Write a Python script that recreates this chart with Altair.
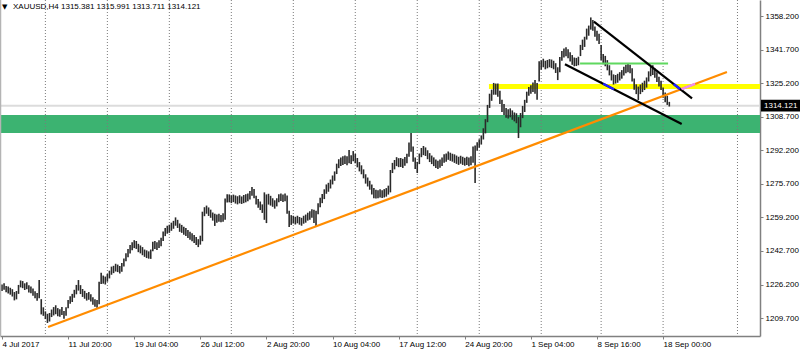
import altair as alt
import pandas as pd

# ---- candle data (H4 bars, low / high) ----
lo = [1223.0, 1223.6, 1222.4, 1221.8, 1221.2, 1220.3, 1218.4, 1218.9, 1221.6, 1224.8,
      1224.4, 1223.5, 1223.9, 1222.3, 1221.9, 1220.7, 1219.4, 1218.2, 1219.5, 1211.5,
      1210.8, 1209.2, 1207.3, 1208.0, 1210.2, 1211.0, 1211.6, 1210.6, 1210.3, 1211.2,
      1209.4, 1210.8, 1214.5, 1216.8, 1217.6, 1219.7, 1221.4, 1223.2, 1221.5, 1220.1,
      1219.2, 1218.3, 1218.7, 1217.9, 1216.2, 1215.3, 1214.8, 1216.5, 1226.5, 1226.6,
      1226.2, 1227.6, 1229.2, 1231.0, 1231.8, 1232.6, 1232.3, 1231.6, 1232.5, 1235.0,
      1237.6, 1239.6, 1241.5, 1243.0, 1244.1, 1243.7, 1242.1, 1241.5, 1240.6, 1239.8,
      1239.2, 1238.9, 1238.8, 1242.6, 1243.6, 1243.2, 1244.1, 1245.0, 1247.6, 1250.0,
      1251.2, 1251.6, 1252.6, 1253.6, 1255.1, 1254.0, 1252.1, 1251.6, 1250.7, 1250.0,
      1249.1, 1248.2, 1247.5, 1246.6, 1245.6, 1244.6, 1245.8, 1247.5, 1259.8, 1261.0,
      1259.9, 1259.0, 1257.6, 1255.0, 1256.6, 1257.1, 1256.8, 1257.1, 1258.0, 1266.5,
      1266.6, 1266.2, 1266.7, 1266.0, 1265.6, 1266.1, 1265.8, 1266.2, 1266.6, 1267.1,
      1268.0, 1269.8, 1268.6, 1265.5, 1264.0, 1262.8, 1261.4, 1258.0, 1256.4, 1265.5,
      1265.0, 1264.4, 1263.5, 1264.6, 1266.6, 1267.2, 1266.8, 1267.1, 1261.0, 1254.5,
      1255.5, 1256.2, 1255.7, 1256.3, 1255.6, 1255.1, 1256.1, 1256.6, 1257.6, 1258.0,
      1259.0, 1256.5, 1254.5, 1260.8, 1264.2, 1266.2, 1268.2, 1270.8, 1271.8, 1273.4,
      1275.4, 1277.2, 1280.5, 1283.4, 1284.5, 1285.0, 1285.5, 1284.8, 1285.8, 1285.4,
      1286.8, 1285.8, 1283.8, 1281.8, 1280.4, 1278.4, 1275.8, 1274.4, 1272.8, 1270.5,
      1268.6, 1268.5, 1268.6, 1269.0, 1268.7, 1269.0, 1269.4, 1270.4, 1271.5, 1281.0,
      1282.8, 1284.4, 1283.9, 1284.0, 1283.5, 1284.6, 1285.8, 1289.0, 1291.5, 1286.5,
      1283.0, 1281.0, 1285.4, 1288.8, 1289.8, 1289.4, 1287.8, 1286.4, 1285.4, 1284.4,
      1283.5, 1283.0, 1283.6, 1284.5, 1286.0, 1286.6, 1287.5, 1287.0, 1286.6, 1286.0,
      1285.5, 1285.0, 1285.6, 1285.0, 1284.6, 1285.0, 1284.3, 1284.8, 1286.0, 1276.1,
      1292.0, 1293.5, 1295.0, 1297.5, 1300.5, 1306.0, 1313.0, 1316.5, 1319.5, 1319.5,
      1318.5, 1315.0, 1311.0, 1309.5, 1308.2, 1307.8, 1308.4, 1307.2, 1306.4, 1305.5,
      1298.2, 1303.5, 1308.0, 1311.0, 1315.5, 1319.0, 1320.0, 1320.8, 1320.0, 1317.0,
      1326.0, 1331.8, 1333.0, 1332.0, 1332.5, 1333.0, 1332.6, 1332.0, 1330.2, 1326.7,
      1330.5, 1336.2, 1337.8, 1338.4, 1337.4, 1335.8, 1334.2, 1333.5, 1333.6, 1334.0,
      1338.5, 1341.5, 1343.0, 1346.6, 1348.5, 1351.5, 1351.0, 1348.0, 1346.0, 1344.5,
      1336.5, 1334.5, 1333.5, 1331.5, 1329.0, 1326.5, 1324.5, 1325.0, 1325.4, 1326.5,
      1327.4, 1329.0, 1330.0, 1330.6, 1330.0, 1326.0, 1322.0, 1319.8, 1316.9, 1319.8,
      1320.8, 1321.8, 1323.0, 1326.0, 1328.6, 1329.2, 1327.8, 1325.8, 1323.5, 1321.8,
      1318.0, 1315.8, 1314.5, 1313.711]
hi = [1226.2, 1226.8, 1225.5, 1225.2, 1224.6, 1223.9, 1222.5, 1223.0, 1226.0, 1228.2,
      1227.9, 1226.8, 1227.3, 1225.8, 1225.2, 1224.3, 1222.9, 1222.0, 1228.4, 1219.0,
      1215.0, 1213.0, 1211.8, 1212.2, 1213.9, 1215.1, 1216.0, 1214.6, 1214.0, 1215.2,
      1213.2, 1215.0, 1218.6, 1220.4, 1221.6, 1223.6, 1226.0, 1228.4, 1225.9, 1224.0,
      1223.1, 1222.0, 1222.5, 1221.4, 1220.0, 1219.0, 1218.6, 1227.5, 1232.0, 1230.6,
      1230.1, 1231.4, 1233.0, 1235.0, 1235.4, 1236.4, 1236.0, 1235.3, 1236.8, 1239.0,
      1241.6, 1243.6, 1245.6, 1247.0, 1248.0, 1247.6, 1246.2, 1245.4, 1244.6, 1243.4,
      1243.0, 1242.5, 1243.4, 1247.2, 1247.6, 1247.0, 1248.0, 1249.2, 1252.3, 1254.0,
      1255.1, 1255.6, 1256.6, 1257.5, 1259.2, 1258.0, 1256.2, 1255.5, 1254.6, 1254.0,
      1253.0, 1252.1, 1251.4, 1250.5, 1249.6, 1248.5, 1250.2, 1262.0, 1264.2, 1265.0,
      1264.1, 1263.0, 1261.6, 1261.0, 1260.6, 1261.0, 1260.4, 1261.2, 1268.5, 1270.6,
      1270.5, 1270.0, 1270.4, 1270.0, 1269.6, 1270.1, 1269.5, 1270.2, 1270.6, 1271.0,
      1272.2, 1274.2, 1273.2, 1269.8, 1268.2, 1267.0, 1265.6, 1271.5, 1270.5, 1270.8,
      1269.8, 1268.6, 1267.6, 1268.6, 1270.6, 1271.0, 1270.4, 1271.0, 1270.0, 1262.5,
      1260.3, 1260.0, 1259.5, 1260.0, 1259.4, 1259.0, 1260.0, 1260.6, 1261.5, 1262.2,
      1263.2, 1263.0, 1262.5, 1266.2, 1268.8, 1270.7, 1273.0, 1275.4, 1276.2, 1277.8,
      1279.8, 1281.8, 1285.6, 1287.8, 1288.6, 1289.2, 1289.6, 1289.2, 1292.3, 1289.8,
      1291.8, 1290.4, 1288.4, 1286.4, 1284.8, 1282.8, 1280.4, 1278.8, 1277.2, 1275.4,
      1273.6, 1272.8, 1272.6, 1273.0, 1272.5, 1273.1, 1273.6, 1274.8, 1282.5, 1286.0,
      1287.4, 1288.8, 1288.3, 1288.4, 1288.0, 1288.9, 1290.5, 1296.0, 1300.7, 1294.0,
      1288.6, 1286.5, 1290.6, 1293.3, 1294.3, 1293.6, 1292.2, 1290.8, 1289.6, 1288.7,
      1287.6, 1287.0, 1287.6, 1288.6, 1290.2, 1290.6, 1291.6, 1291.0, 1290.5, 1290.2,
      1289.6, 1289.0, 1289.5, 1289.0, 1288.5, 1289.0, 1288.6, 1289.2, 1294.0, 1294.5,
      1296.2, 1297.6, 1299.5, 1303.0, 1307.5, 1314.5, 1320.0, 1322.0, 1325.3, 1325.0,
      1325.0, 1321.5, 1317.0, 1315.0, 1313.0, 1312.4, 1312.8, 1311.8, 1310.8, 1310.4,
      1308.5, 1310.5, 1314.0, 1317.0, 1321.0, 1323.3, 1324.2, 1325.5, 1326.7, 1325.3,
      1336.0, 1336.4, 1337.2, 1336.2, 1336.6, 1337.0, 1336.8, 1336.2, 1335.0, 1333.0,
      1338.0, 1341.0, 1342.2, 1342.8, 1341.8, 1340.4, 1339.0, 1337.8, 1337.6, 1338.2,
      1344.0, 1346.6, 1348.0, 1352.0, 1353.5, 1357.5, 1356.2, 1353.0, 1351.0, 1349.5,
      1344.0, 1339.5, 1338.6, 1336.5, 1334.0, 1331.5, 1329.5, 1329.2, 1329.8, 1330.6,
      1331.6, 1333.2, 1334.2, 1334.6, 1334.2, 1332.5, 1327.5, 1324.6, 1323.5, 1324.5,
      1325.4, 1326.4, 1328.0, 1331.0, 1333.4, 1334.0, 1332.4, 1330.5, 1328.4, 1326.4,
      1323.0, 1320.6, 1319.0, 1315.991]
bar = list(range(len(lo)))

# ---- axis data ----
tick_bars = [0, 32, 64, 96, 128, 160, 192, 224, 256, 288, 320]
tick_labels = ["4 Jul 2017", "11 Jul 20:00", "19 Jul 04:00", "26 Jul 12:00", "2 Aug 20:00",
               "10 Aug 04:00", "17 Aug 12:00", "24 Aug 20:00", "1 Sep 04:00", "8 Sep 16:00",
               "18 Sep 00:00"]
price_ticks = [1209.7, 1226.2, 1242.7, 1259.2, 1275.7, 1292.2, 1308.7, 1325.2, 1341.7, 1358.2]
grid_bars = [21, 51, 81, 111, 141, 171, 201, 231, 261, 290, 320, 356]

# ---- annotations ----
last_ohlc = [1315.381, 1315.991, 1313.711, 1314.121]
zone_lo, zone_hi = 1300.7, 1309.5
resist_level, resist_start = 1323.6, 235.7
green_level, green_x = 1334.9, [279.8, 322.4]
line_names = ["trend", "upper", "lower", "blue_lower", "blue_upper", "pink_trend"]
line_x1 = [22.3, 286.5, 272.5, 291.0, 325.1, 328.9]
line_x2 = [350.9, 334.0, 329.0, 296.2, 328.2, 335.5]
line_y1 = [1205.3, 1355.4, 1334.5, 1324.9, 1324.8, 1322.3]
line_y2 = [1330.7, 1317.7, 1305.1, 1322.2, 1322.3, 1324.8]
line_colors = ["#FF8C00", "#000000", "#000000", "#2020FF", "#2020FF", "#F08CEB"]
line_widths = [2.2, 2.2, 2.2, 2.4, 2.4, 2.4]

X_MIN, X_MAX = -0.968, 366.9
Y_MIN, Y_MAX = 1200.89, 1366.07

FONT = "Liberation Sans"
xs = alt.Scale(domain=[X_MIN, X_MAX], nice=False, zero=False)
ys = alt.Scale(domain=[Y_MIN, Y_MAX], nice=False, zero=False)
label_arr = "[" + ",".join("'%s'" % t for t in tick_labels) + "]"
xax = alt.Axis(values=tick_bars, labelExpr=label_arr + "[round(datum.value/32)]",
               orient="bottom", title=None, grid=False, labelAlign="left", labelFlush=False,
               tickSize=3, labelPadding=1, labelFont=FONT, labelFontSize=8,
               labelColor="#000", domainColor="#808080", tickColor="#808080",
               domainWidth=1.5, labelOverlap=False)
yax = alt.Axis(values=price_ticks, format=".3f", orient="right", title=None, grid=False,
               tickSize=3, labelPadding=2, labelFont=FONT, labelFontSize=8,
               labelColor="#000", domainColor="#808080", tickColor="#808080",
               domainWidth=1.5, labelOverlap=False, labelBaseline="middle")

candles = pd.DataFrame({"bar": bar, "lo": lo, "hi": hi})
lines = pd.DataFrame({"name": line_names, "x1": line_x1, "x2": line_x2, "y1": line_y1,
                      "y2": line_y2, "color": line_colors, "w": line_widths})

zone = alt.Chart(pd.DataFrame({"a": [X_MIN], "b": [X_MAX], "lo": [zone_lo], "hi": [zone_hi]})).mark_rect(
    color="#3CB371").encode(x=alt.X("a:Q", scale=xs, axis=xax), x2="b:Q",
                            y=alt.Y("lo:Q", scale=ys, axis=yax), y2="hi:Q")

grid = alt.Chart(pd.DataFrame({"g": grid_bars})).mark_rule(
    color="#7a7a7a", strokeDash=[1, 2], strokeWidth=1).encode(
    x=alt.X("g:Q", scale=xs, axis=xax), y=alt.value(0), y2=alt.value(336))

resist = alt.Chart(pd.DataFrame({"a": [resist_start], "b": [X_MAX], "p": [resist_level]})).mark_rule(
    color="#FFFF00", strokeWidth=5).encode(x=alt.X("a:Q", scale=xs, axis=xax), x2="b:Q",
                                          y=alt.Y("p:Q", scale=ys, axis=yax))

curline = alt.Chart(pd.DataFrame({"a": [X_MIN], "b": [X_MAX], "p": [last_ohlc[3]]})).mark_rule(
    color="#DCDCDC", strokeWidth=2).encode(x=alt.X("a:Q", scale=xs, axis=xax), x2="b:Q",
                                          y=alt.Y("p:Q", scale=ys, axis=yax))

cand = alt.Chart(candles).mark_rule(color="#2a2a2a", strokeWidth=1.6).encode(
    x=alt.X("bar:Q", scale=xs, axis=xax),
    y=alt.Y("lo:Q", scale=ys, axis=yax), y2="hi:Q")

greenline = alt.Chart(pd.DataFrame({"a": [green_x[0]], "b": [green_x[1]], "p": [green_level]})).mark_rule(
    color="#5FD85F", strokeWidth=2).encode(x=alt.X("a:Q", scale=xs, axis=xax), x2="b:Q",
                                          y=alt.Y("p:Q", scale=ys, axis=yax))

segs = alt.Chart(lines).mark_rule(strokeCap="butt").encode(
    x=alt.X("x1:Q", scale=xs, axis=xax), x2="x2:Q",
    y=alt.Y("y1:Q", scale=ys, axis=yax), y2="y2:Q",
    color=alt.Color("color:N", scale=None), strokeWidth=alt.StrokeWidth("w:Q", scale=None),
    order=alt.Order("w:Q"))

left_border = alt.Chart(pd.DataFrame({"k": [0]})).mark_rule(color="#b4b4b4", strokeWidth=1.5).encode(
    x=alt.value(0.5), y=alt.value(0), y2=alt.value(336))

hdr_text = "XAUUSD,H4  " + " ".join("%.3f" % v for v in last_ohlc)
header = alt.Chart(pd.DataFrame({"t": [hdr_text]})).mark_text(
    align="left", baseline="middle", font=FONT, fontSize=8, color="#000").encode(
    x=alt.value(13), y=alt.value(7), text="t:N")
tri = alt.Chart(pd.DataFrame({"t": ["\u25BC"]})).mark_text(
    align="left", baseline="middle", font="DejaVu Sans", fontSize=7, color="#000").encode(
    x=alt.value(2), y=alt.value(7), text="t:N")

box = alt.Chart(pd.DataFrame({"a": [last_ohlc[3] + 2.9], "b": [last_ohlc[3] - 2.9]})).mark_rect(
    color="#000000").encode(x=alt.value(761), x2=alt.value(800),
                            y=alt.Y("a:Q", scale=ys, axis=yax), y2="b:Q")
boxtext = alt.Chart(pd.DataFrame({"p": [last_ohlc[3]], "t": ["%.3f" % last_ohlc[3]]})).mark_text(
    align="left", baseline="middle", font=FONT, fontSize=8, color="#FFFFFF").encode(
    x=alt.value(764), y=alt.Y("p:Q", scale=ys, axis=yax), text="t:N")

chart = alt.layer(zone, grid, resist, curline, cand, greenline, segs, left_border,
                  header, tri, box, boxtext).properties(
    width=760, height=336, autosize="none",
    padding={"left": 0, "top": 0, "right": 40, "bottom": 14},
    background="#FFFFFF"
).configure_view(stroke=None)

chart.save("out.html", embed_options={"renderer": "svg", "actions": False})
